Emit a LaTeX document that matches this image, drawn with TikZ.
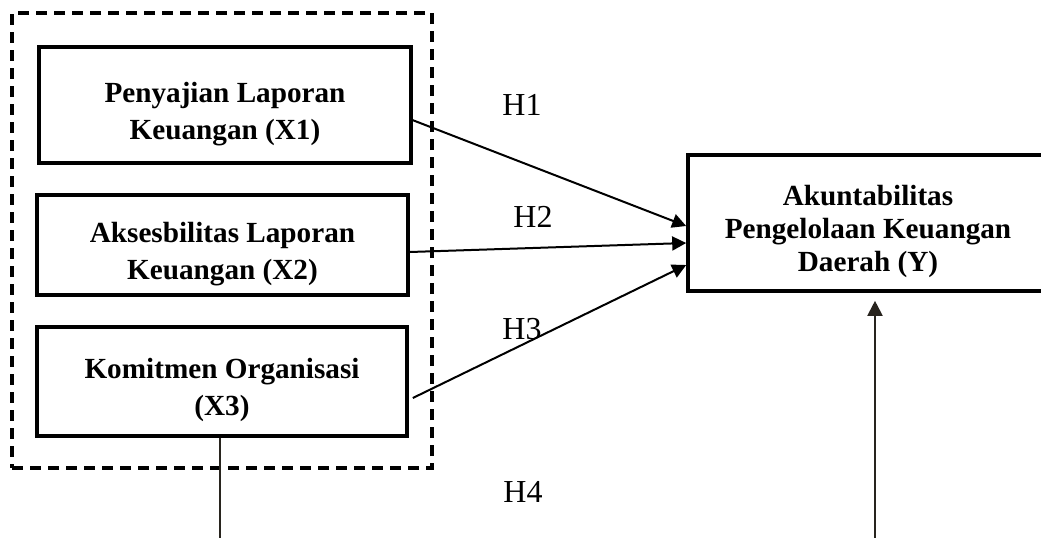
\documentclass[tikz,border=0pt]{standalone}
\usepackage{fontspec}
\setmainfont{Liberation Serif}
\usetikzlibrary{arrows.meta}

\newcommand{\toprule}{\rule{0pt}{19pt}}

\begin{document}
\begin{tikzpicture}[x=0.5pt, y=-0.5pt,
    varbox/.style={draw, line width=1.8pt, align=center, inner sep=2pt,
      font=\fontsize{14.6}{18.5}\selectfont\bfseries},
    hlabel/.style={font=\fontsize{16}{18}\selectfont, inner sep=0pt},
    hyp/.style={line width=1pt, -{Triangle[length=7pt, width=7pt]}},
    link/.style={line width=0.9pt, draw={rgb,255:red,40;green,36;blue,30}}]
    \useasboundingbox (0,0) rectangle (1041,537);
    \clip (0,0) rectangle (1041,537);

    % group of independent variables
    \node[draw, line width=1.8pt, dash pattern=on 5.5pt off 3.5pt, minimum width=210pt, minimum height=227.5pt, inner sep=0pt] (grp) at (222,240.5) {};

    \node[varbox, minimum width=186pt, minimum height=58pt] (X1) at (225,105) {\toprule Penyajian Laporan\\Keuangan (X1)};
    \node[varbox, minimum width=185.5pt, minimum height=50pt] (X2) at (222.5,245) {\toprule Aksesbilitas Laporan\\Keuangan (X2)};
    \node[varbox, minimum width=185pt, minimum height=54.5pt] (X3) at (222,381.5) {\toprule Komitmen Organisasi\\(X3)};

    \node[varbox, font=\fontsize{14.6}{16.5}\selectfont\bfseries, minimum width=180pt, minimum height=68pt] (Y) at (868,223) {\toprule Akuntabilitas\\Pengelolaan Keuangan\\Daerah (Y)};

    \node[hlabel] (h1) at (522,105) {H1};
    \node[hlabel] (h2) at (533,217) {H2};
    \node[hlabel] (h3) at (522,329) {H3};
    \node[hlabel] (h4) at (523,492) {H4};

    \coordinate (botL) at (220,545);
    \coordinate (botR) at (875,545);

    % Arrows
    \draw[hyp] ([xshift=-1.5pt, yshift=-7pt]X1.east) -- ([yshift=-1.5pt]Y.west);
    \draw[hyp] ([yshift=-3.5pt]X2.east) -- ([yshift=-10pt]Y.west);
    \draw[hyp] ([xshift=2pt, yshift=-8.25pt]X3.east) -- ([yshift=-21pt]Y.west);

    \draw[link] (X3.south -| botL) -- (botL);
    \draw[link, line width=1pt, -{Triangle[length=7.5pt, width=7.5pt]}, shorten >=4pt] (botR) -- (Y.south -| botR);

  \end{tikzpicture}
\end{document}
